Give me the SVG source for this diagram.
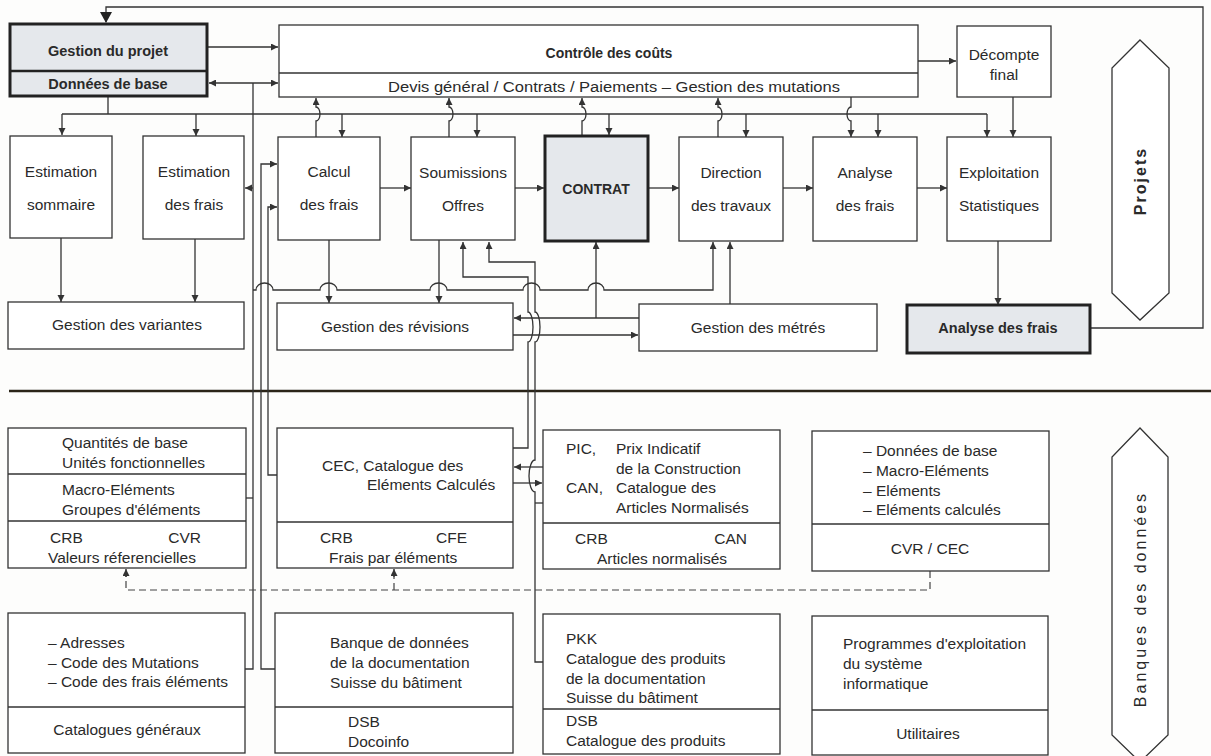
<svg xmlns="http://www.w3.org/2000/svg" width="1211" height="756" viewBox="0 0 1211 756">
<defs>
<style>
.box{fill:#fff;stroke:#333;stroke-width:1.3}
.bbox{fill:#e5e8ec;stroke:#222;stroke-width:3}
.ln{fill:none;stroke:#333;stroke-width:1.3}
.dash{fill:none;stroke:#444;stroke-width:1.2;stroke-dasharray:7 4}
.arr{marker-end:url(#ah)}
.t{font-family:"Liberation Sans",Arial,sans-serif;font-size:15.5px;fill:#2a2a2a;dominant-baseline:central}
.c{text-anchor:middle}
.e{text-anchor:end}
.b{font-weight:bold;font-size:14.5px}
</style>
<marker id="ah" markerUnits="userSpaceOnUse" markerWidth="8" markerHeight="8" refX="7" refY="3.5" orient="auto"><path d="M0,0 L7,3.5 L0,7 z" fill="#333"/></marker>
<marker id="ahs" markerUnits="userSpaceOnUse" markerWidth="8" markerHeight="8" refX="0" refY="3.5" orient="auto"><path d="M7,0 L0,3.5 L7,7 z" fill="#333"/></marker>
<marker id="big" markerUnits="userSpaceOnUse" markerWidth="14" markerHeight="14" refX="10" refY="6" orient="auto"><path d="M0,0 L11,6 L0,12 z" fill="#222"/></marker>
</defs>
<rect width="1211" height="756" fill="#fdfdfc"/>

<!-- separator -->
<line x1="9" y1="391" x2="1211" y2="391" stroke="#2a2418" stroke-width="2.5"/>

<!-- connectors -->
<g id="connectors">
<path class="ln" d="M1090,328 H1203 V7 H106 V22" stroke-width="2.6" stroke="#222" marker-end="url(#big)"/>
<path class="ln arr" d="M207,47 H278"/>
<path class="ln arr" d="M209,83 H278" marker-start="url(#ahs)"/>
<path class="ln arr" d="M918,61 H956"/>
<path class="ln" d="M108,96 V114 M62,114 H987"/>
<path class="ln arr" d="M62,114 V135"/>
<path class="ln arr" d="M196,114 V136"/>
<path class="ln arr" d="M342,114 V137"/>
<path class="ln arr" d="M477,114 V137"/>
<path class="ln arr" d="M609,114 V135"/>
<path class="ln arr" d="M746,114 V137"/>
<path class="ln arr" d="M878,114 V137"/>
<path class="ln arr" d="M987,114 V137"/>
<path class="ln arr" d="M316,137 V121 A4 7 0 0 0 316,107 V98"/>
<path class="ln arr" d="M449,137 V121 A4 7 0 0 0 449,107 V98"/>
<path class="ln arr" d="M582,135 V121 A4 7 0 0 0 582,107 V98"/>
<path class="ln arr" d="M718,137 V121 A4 7 0 0 0 718,107 V98"/>
<path class="ln arr" d="M851,97 V107 A4 7 0 0 0 851,121 V137"/>
<path class="ln arr" d="M1013,97 V137"/>
<path class="ln arr" d="M380,188 H411"/>
<path class="ln arr" d="M515,188 H544"/>
<path class="ln arr" d="M649,188 H679"/>
<path class="ln arr" d="M783,188 H813"/>
<path class="ln arr" d="M917,188 H947"/>
<path class="ln arr" d="M61,238 V302"/>
<path class="ln arr" d="M195,239 V302"/>
<path class="ln arr" d="M329,240 V303"/>
<path class="ln arr" d="M439,240 V303"/>
<path class="ln arr" d="M998,241 V305"/>
<path class="ln arr" d="M596,318 V242"/>
<path class="ln arr" d="M730,304 V242"/>
<path class="ln arr" d="M639,318 H514"/>
<path class="ln arr" d="M513,335 H638"/>
<path class="ln arr" d="M253,290 H256 A8.5 7 0 0 1 273,290 H320 A8.5 7 0 0 1 337,290 H430 A8.5 7 0 0 1 447,290 H523 A8.5 7 0 0 1 540,290 H588 A8 7 0 0 1 604,290 H713 V242"/>
<path class="ln" d="M253,83 V669 H245"/>
<path class="ln arr" d="M253,188 H245"/>
<path class="ln" d="M253,498 H246"/>
<path class="ln arr" d="M275,669 H261 V164 H277"/>
<path class="ln arr" d="M277,475 H268 V207 H277"/>
<path class="ln arr" d="M513,448 H528 V342 A5 15 0 0 0 528,312 V277 H463 V242"/>
<path class="ln arr" d="M543,662 H535 V492 A6 16 0 0 1 535,460 V342 A5 15 0 0 0 535,312 V262 H489 V242"/>
<path class="ln" d="M535,503 H543"/>
<path class="ln arr" d="M543,467 H514"/>
<path class="ln arr" d="M513,483 H542"/>
<path class="dash" d="M930,571 V590 H126 V576"/>
<path class="ln arr" d="M126,577 V569"/>
<path class="dash" d="M394,590 V576"/>
<path class="ln arr" d="M394,577 V569"/>
</g>

<!-- top nodes -->
<g id="gestion-projet">
<rect class="bbox" x="10" y="24" width="197" height="72"/>
<line x1="10" y1="71" x2="207" y2="71" stroke="#222" stroke-width="2.6"/>
<text class="t c b" x="108" y="51">Gestion du projet</text>
<text class="t c b" x="108" y="84">Données de base</text>
</g>
<g id="controle-couts">
<rect class="box" x="279" y="25" width="639" height="72"/>
<line class="ln" x1="279" y1="73" x2="918" y2="73"/>
<text class="t c b" x="609" y="53" style="font-size:14px">Contrôle des coûts</text>
<text class="t c" x="614" y="86" textLength="452" lengthAdjust="spacingAndGlyphs">Devis général / Contrats / Paiements – Gestion des mutations</text>
</g>
<g id="decompte">
<rect class="box" x="957" y="26" width="94" height="71"/>
<text class="t c" x="1004" y="54">Décompte</text>
<text class="t c" x="1004" y="74">final</text>
</g>

<g id="estimation-sommaire">
<rect class="box" x="10" y="136" width="102" height="102"/>
<text class="t c" x="61" y="171">Estimation</text>
<text class="t c" x="61" y="204">sommaire</text>
</g>
<g id="estimation-frais">
<rect class="box" x="143" y="136" width="101" height="103"/>
<text class="t c" x="194" y="171">Estimation</text>
<text class="t c" x="194" y="204">des frais</text>
</g>
<g id="calcul-frais">
<rect class="box" x="278" y="137" width="102" height="103"/>
<text class="t c" x="329" y="171">Calcul</text>
<text class="t c" x="329" y="204">des frais</text>
</g>
<g id="soumissions">
<rect class="box" x="411" y="137" width="104" height="103"/>
<text class="t c" x="463" y="172">Soumissions</text>
<text class="t c" x="463" y="205">Offres</text>
</g>
<g id="contrat">
<rect class="bbox" x="545" y="136" width="103" height="105"/>
<text class="t c b" x="596" y="189" style="font-size:14px">CONTRAT</text>
</g>
<g id="direction-travaux">
<rect class="box" x="679" y="137" width="104" height="104"/>
<text class="t c" x="731" y="172">Direction</text>
<text class="t c" x="731" y="205">des travaux</text>
</g>
<g id="analyse-frais-top">
<rect class="box" x="813" y="137" width="104" height="104"/>
<text class="t c" x="865" y="172">Analyse</text>
<text class="t c" x="865" y="205">des frais</text>
</g>
<g id="exploitation">
<rect class="box" x="947" y="137" width="104" height="104"/>
<text class="t c" x="999" y="172">Exploitation</text>
<text class="t c" x="999" y="205">Statistiques</text>
</g>

<g id="gestion-variantes">
<rect class="box" x="8" y="302" width="236" height="47"/>
<text class="t c" x="127" y="324">Gestion des variantes</text>
</g>
<g id="gestion-revisions">
<rect class="box" x="277" y="303" width="236" height="47"/>
<text class="t c" x="395" y="326">Gestion des révisions</text>
</g>
<g id="gestion-metres">
<rect class="box" x="639" y="304" width="238" height="47"/>
<text class="t c" x="758" y="327">Gestion des métrés</text>
</g>
<g id="analyse-frais">
<rect class="bbox" x="907" y="305" width="183" height="48"/>
<text class="t c b" x="998" y="328">Analyse des frais</text>
</g>

<g id="projets">
<polygon class="box" points="1140,40 1169,68 1169,293 1140,320 1112,293 1112,68"/>
<text class="t c" transform="translate(1140,181) rotate(-90)" style="font-weight:bold;font-size:16px;letter-spacing:2px">Projets</text>
</g>
<g id="banques">
<polygon class="box" points="1140,428 1168,457 1168,735 1140,762 1112,735 1112,457"/>
<text class="t c" transform="translate(1140,599) rotate(-90)" style="font-size:16px;letter-spacing:3px">Banques des données</text>
</g>

<!-- data banks -->
<g id="bank-quantites">
<rect class="box" x="8" y="428" width="238" height="140"/>
<line class="ln" x1="8" y1="474" x2="246" y2="474"/>
<line class="ln" x1="8" y1="521" x2="246" y2="521"/>
<text class="t" x="62" y="442">Quantités de base</text>
<text class="t" x="62" y="462">Unités fonctionnelles</text>
<text class="t" x="62" y="489">Macro-Eléments</text>
<text class="t" x="62" y="509">Groupes d'éléments</text>
<text class="t" x="50" y="537">CRB</text>
<text class="t e" x="201" y="537">CVR</text>
<text class="t" x="48" y="557">Valeurs réferencielles</text>
</g>
<g id="bank-cec">
<rect class="box" x="277" y="428" width="236" height="140"/>
<line class="ln" x1="277" y1="522" x2="513" y2="522"/>
<text class="t" x="322" y="465">CEC, Catalogue des</text>
<text class="t" x="367" y="484">Eléments Calculés</text>
<text class="t" x="320" y="537">CRB</text>
<text class="t e" x="467" y="537">CFE</text>
<text class="t" x="329" y="557">Frais par éléments</text>
</g>
<g id="bank-pic">
<rect class="box" x="543" y="430" width="237" height="139"/>
<line class="ln" x1="543" y1="523" x2="780" y2="523"/>
<text class="t" x="566" y="448">PIC,</text>
<text class="t" x="616" y="448">Prix Indicatif</text>
<text class="t" x="616" y="468">de la Construction</text>
<text class="t" x="566" y="487">CAN,</text>
<text class="t" x="616" y="487">Catalogue des</text>
<text class="t" x="616" y="507">Articles Normalisés</text>
<text class="t" x="575" y="538">CRB</text>
<text class="t e" x="747" y="538">CAN</text>
<text class="t" x="597" y="558">Articles normalisés</text>
</g>
<g id="bank-donnees">
<rect class="box" x="812" y="431" width="237" height="140"/>
<line class="ln" x1="812" y1="524" x2="1049" y2="524"/>
<text class="t" x="863" y="450">– Données de base</text>
<text class="t" x="863" y="470">– Macro-Eléments</text>
<text class="t" x="863" y="490">– Eléments</text>
<text class="t" x="863" y="509">– Eléments calculés</text>
<text class="t c" x="930" y="548">CVR / CEC</text>
</g>
<g id="bank-catalogues">
<rect class="box" x="8" y="613" width="237" height="140"/>
<line class="ln" x1="8" y1="707" x2="245" y2="707"/>
<text class="t" x="48" y="642">– Adresses</text>
<text class="t" x="48" y="662">– Code des Mutations</text>
<text class="t" x="48" y="681">– Code des frais éléments</text>
<text class="t c" x="127" y="729">Catalogues généraux</text>
</g>
<g id="bank-docoinfo">
<rect class="box" x="275" y="613" width="238" height="140"/>
<line class="ln" x1="275" y1="707" x2="513" y2="707"/>
<text class="t" x="330" y="642">Banque de données</text>
<text class="t" x="330" y="662">de la documentation</text>
<text class="t" x="330" y="682">Suisse du bâtiment</text>
<text class="t" x="348" y="721">DSB</text>
<text class="t" x="348" y="741">Docoinfo</text>
</g>
<g id="bank-pkk">
<rect class="box" x="543" y="614" width="237" height="140"/>
<line class="ln" x1="543" y1="709" x2="780" y2="709"/>
<text class="t" x="566" y="638">PKK</text>
<text class="t" x="566" y="658">Catalogue des produits</text>
<text class="t" x="566" y="678">de la documentation</text>
<text class="t" x="566" y="697">Suisse du bâtiment</text>
<text class="t" x="566" y="720">DSB</text>
<text class="t" x="566" y="740">Catalogue des produits</text>
</g>
<g id="bank-utilitaires">
<rect class="box" x="812" y="616" width="236" height="139"/>
<line class="ln" x1="812" y1="710" x2="1048" y2="710"/>
<text class="t" x="843" y="643">Programmes d'exploitation</text>
<text class="t" x="843" y="663">du système</text>
<text class="t" x="843" y="683">informatique</text>
<text class="t c" x="928" y="733">Utilitaires</text>
</g>
</svg>
